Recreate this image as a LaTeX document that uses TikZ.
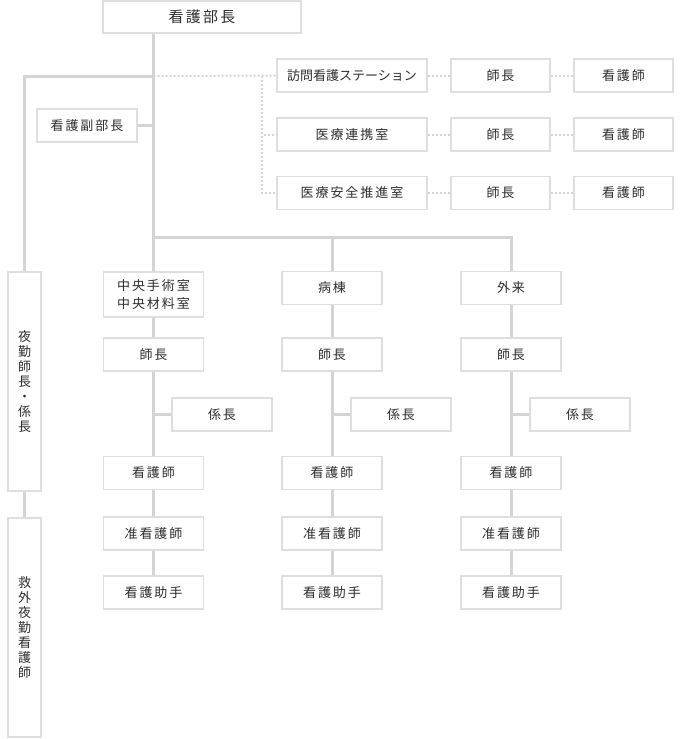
\documentclass[tikz,border=0pt]{standalone}
\usepackage{fontspec}
\usepackage{tikz}
\usetikzlibrary{positioning}
\newfontfamily\jpfont{Noto Sans CJK JP}
\newfontfamily\jpwide[LetterSpace=15]{Noto Sans CJK JP}
\definecolor{linegray}{RGB}{212,212,212}
\definecolor{boxgray}{RGB}{222,222,222}
\definecolor{textgray}{RGB}{45,45,45}

\begin{document}
\begin{tikzpicture}[
    x=1pt, y=-1pt,
    post/.style={draw=boxgray, line width=1.2pt, fill=white, minimum width=100pt, minimum height=33pt, inner sep=0pt, text=textgray, font=\jpwide\fontsize{13}{15}\selectfont},
    tallpost/.style={post, minimum width=33pt, minimum height=219pt, align=center, font=\jpfont\fontsize{13}{15}\selectfont},
    link/.style={draw=linegray, line width=3pt},
    dotlink/.style={draw=linegray, line width=2pt, dash pattern=on 2pt off 2pt}
]
    \useasboundingbox (0,0) rectangle (680,739);

    % Top and vice
    \node[post, minimum width=198pt, minimum height=32pt, font=\jpwide\fontsize{15}{18}\selectfont] (chief) at (202,17) {看護部長};
    \node[post] (vice) at (87,125.5) {看護副部長};

    % Dotted branch
    \node[post, minimum width=150pt, font=\jpfont\fontsize{13}{15}\selectfont] (visit) at (352,75.5) {訪問看護ステーション};
    \node[post, minimum width=150pt] (liaison) at (352,134.5) {医療連携室};
    \node[post, minimum width=150pt] (safety) at (352,193) {医療安全推進室};
    \node[post, minimum width=99pt] (visithead) at (500.5,75.5) {師長};
    \node[post, minimum width=99pt] (liaisonhead) at (500.5,134.5) {師長};
    \node[post, minimum width=99pt] (safetyhead) at (500.5,193) {師長};
    \node[post, minimum width=99pt] (visitnurse) at (623.5,75.5) {看護師};
    \node[post, minimum width=99pt] (liaisonnurse) at (623.5,134.5) {看護師};
    \node[post, minimum width=99pt] (safetynurse) at (623.5,193) {看護師};

    % Night duty
    \node[tallpost] (night) at (24.5,381.5) {夜\\勤\\師\\長\\・\\係\\長};
    \node[tallpost] (er) at (24.5,627.5) {救\\外\\夜\\勤\\看\\護\\師};

    % Surgery column
    \node[post, minimum height=45pt, align=center, font=\jpwide\fontsize{13}{18}\selectfont] (surg) at (153.5,294.5) {中央手術室\\中央材料室};
    \node[post] (surghead) at (153.5,354.5) {師長};
    \node[post] (surgsub) at (222,414.5) {係長};
    \node[post] (surgnurse) at (153.5,473) {看護師};
    \node[post] (surgassoc) at (153.5,533.5) {准看護師};
    \node[post] (surgaide) at (153.5,592.5) {看護助手};

    % Ward column
    \node[post] (ward) at (332,288) {病棟};
    \node[post] (wardhead) at (332,354.5) {師長};
    \node[post] (wardsub) at (401,414.5) {係長};
    \node[post] (wardnurse) at (332,473) {看護師};
    \node[post] (wardassoc) at (332,533.5) {准看護師};
    \node[post] (wardaide) at (332,592.5) {看護助手};

    % Outpatient column
    \node[post] (outp) at (511,288) {外来};
    \node[post] (outphead) at (511,354.5) {師長};
    \node[post] (outpsub) at (580,414.5) {係長};
    \node[post] (outpnurse) at (511,473) {看護師};
    \node[post] (outpassoc) at (511,533.5) {准看護師};
    \node[post] (outpaide) at (511,592.5) {看護助手};

    \coordinate (split) at (153.5,76);
    \coordinate (bar) at (153.5,237);
    \coordinate (dotsplit) at (262,76);

    % Solid links
    \draw[link] (chief.south -| surg.north) -- (surg.north);
    \draw[link] (split) -| (night.north);
    \draw[link] (night) -- (er);
    \draw[link] (vice.east) -- (vice.east -| split);
    \draw[link] (bar) -| (ward.north);
    \draw[link] (bar) -| (outp.north);
    \draw[link] (surg) -- (surghead) -- (surgnurse) -- (surgassoc) -- (surgaide);
    \draw[link] (ward) -- (wardhead) -- (wardnurse) -- (wardassoc) -- (wardaide);
    \draw[link] (outp) -- (outphead) -- (outpnurse) -- (outpassoc) -- (outpaide);
    \draw[link] (surgsub.west) -- (surgsub.west -| surghead.south);
    \draw[link] (wardsub.west) -- (wardsub.west -| wardhead.south);
    \draw[link] (outpsub.west) -- (outpsub.west -| outphead.south);

    % Dotted links
    \draw[dotlink] (split) -- (visit.west);
    \draw[dotlink] (dotsplit) |- (liaison.west);
    \draw[dotlink] (dotsplit) |- (safety.west);
    \draw[dotlink] (visit) -- (visithead) -- (visitnurse);
    \draw[dotlink] (liaison) -- (liaisonhead) -- (liaisonnurse);
    \draw[dotlink] (safety) -- (safetyhead) -- (safetynurse);
\end{tikzpicture}
\end{document}
